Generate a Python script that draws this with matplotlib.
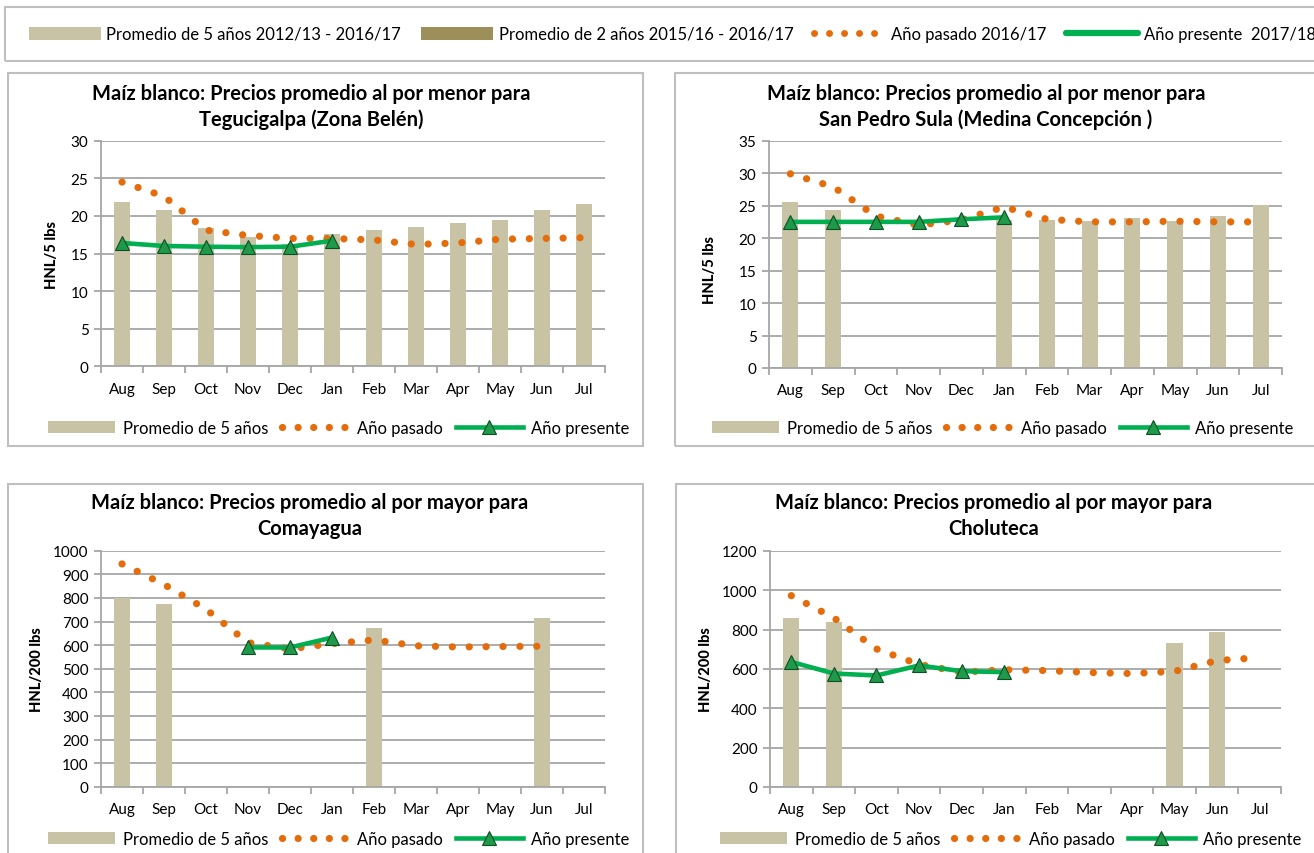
import numpy as np
import matplotlib
matplotlib.use('Agg')
import matplotlib.pyplot as plt
from matplotlib.patches import Rectangle, Patch
from matplotlib.lines import Line2D

nan = np.nan

# ---------------- data ----------------
months = ['Aug', 'Sep', 'Oct', 'Nov', 'Dec', 'Jan', 'Feb', 'Mar', 'Apr', 'May', 'Jun', 'Jul']

teg_prom5 = [21.8, 20.8, 18.4, 17.2, 16.2, 17.6, 18.1, 18.5, 19.0, 19.5, 20.8, 21.6]
teg_pasado = [24.5, 22.6, 18.1, 17.4, 17.0, 17.0, 16.8, 16.2, 16.4, 16.9, 17.0, 17.1]
teg_presente = [16.4, 16.0, 15.9, 15.85, 15.9, 16.7, nan, nan, nan, nan, nan, nan]

sps_prom5 = [25.5, 24.3, nan, nan, nan, 22.8, 22.8, 22.6, 23.1, 22.6, 23.4, 25.1]
sps_pasado = [29.9, 27.9, 23.4, 22.0, 22.8, 24.8, 22.9, 22.5, 22.5, 22.6, 22.5, 22.5]
sps_presente = [22.5, 22.5, 22.5, 22.5, 22.9, 23.2, nan, nan, nan, nan, nan, nan]

com_prom5 = [801, 773, nan, nan, nan, nan, 671, nan, nan, nan, 716, nan]
com_pasado = [944, 857, 752, 610, 584, 606, 622, 597, 592, 594, 595, nan]
com_presente = [nan, nan, nan, 590, 590, 632, nan, nan, nan, nan, nan, nan]

cho_prom5 = [858, 839, nan, nan, nan, nan, nan, nan, nan, 734, 789, nan]
cho_pasado = [973, 860, 702, 623, 584, 596, 592, 582, 577, 588, 643, 658]
cho_presente = [636, 577, 567, 618, 589, 584, nan, nan, nan, nan, nan, nan]

titles = [
    ('Maíz blanco: Precios promedio al por menor para', 'Tegucigalpa (Zona Belén)'),
    ('Maíz blanco: Precios promedio al por menor para', 'San Pedro Sula (Medina Concepción )'),
    ('Maíz blanco: Precios promedio al por mayor para', 'Comayagua'),
    ('Maíz blanco: Precios promedio al por mayor para', 'Choluteca'),
]
ylabels = ['HNL/5 lbs', 'HNL/5 lbs', 'HNL/200 lbs', 'HNL/200 lbs']
legend_labels = ['Promedio de 5 años', 'Año pasado', 'Año presente']
top_labels = ['Promedio de 5 años 2012/13 - 2016/17', 'Promedio de 2 años 2015/16 - 2016/17',
              'Año pasado 2016/17', 'Año presente  2017/18']

# ---------------- style ----------------
BAR = '#C9C3A6'
BAR2 = '#9C8F5A'
ORANGE = '#E46C0A'
GREEN = '#00B050'
TRI_FC = '#1F9A4A'
TRI_EC = '#0C4F24'
GRID = '#A6A6A6'
BOX = '#BFBFBF'
FONT = ['Lato', 'DejaVu Sans']

plt.rcParams['font.family'] = FONT

W, H = 1314, 854
fig = plt.figure(figsize=(W / 100, H / 100), dpi=100)


def fx(px):
    return px / W


def fy(py):
    return 1 - py / H


def box(x0, y0, x1, y1):
    fig.patches.append(Rectangle((fx(x0), fy(y1)), (x1 - x0) / W, (y1 - y0) / H,
                                 transform=fig.transFigure, fill=False,
                                 edgecolor=BOX, lw=1.5, zorder=0))


DOT = (0, (0.01, 2.33))
DOT_LEG = (0, (0.01, 2.15))

# top legend
box(5, 8, 1330, 62)
top_handles = [
    Patch(facecolor=BAR, edgecolor='none'),
    Patch(facecolor=BAR2, edgecolor='none'),
    Line2D([], [], color=ORANGE, lw=5, linestyle=DOT_LEG, dash_capstyle='round'),
    Line2D([], [], color=GREEN, lw=4.5, solid_capstyle='round'),
]
fig.legend(top_handles, top_labels, loc='center left', bbox_to_anchor=(fx(29), fy(35)),
           ncol=4, frameon=False, fontsize=12, handlelength=4.3, handleheight=0.8,
           handletextpad=0.35, columnspacing=1.2, borderpad=0, borderaxespad=0)

panels = [
    dict(prom=teg_prom5, pas=teg_pasado, pre=teg_presente, ax=(101, 605, 141.7, 367.3),
         ymax=30, step=5, tx=311, ty=(94, 120), yl=(52, 255), lg=(48, 429),
         box=(8, 74, 643, 447)),
    dict(prom=sps_prom5, pas=sps_pasado, pre=sps_presente, ax=(769, 1282, 141.7, 369),
         ymax=35, step=5, tx=986, ty=(94, 120), yl=(710, 270), lg=(712, 429),
         box=(675, 74, 1330, 447)),
    dict(prom=com_prom5, pas=com_pasado, pre=com_presente, ax=(101, 605, 551.7, 787.7),
         ymax=1000, step=100, tx=310, ty=(503, 529), yl=(37, 670), lg=(48, 840),
         box=(8, 485, 643, 870)),
    dict(prom=cho_prom5, pas=cho_pasado, pre=cho_presente, ax=(770, 1281, 552, 788),
         ymax=1200, step=200, tx=994, ty=(503, 529), yl=(706, 670), lg=(720, 840),
         box=(676, 485, 1330, 870)),
]

x = np.arange(len(months))

for i, p in enumerate(panels):
    box(*p['box'])
    l, r, t, b = p['ax']
    ax = fig.add_axes([fx(l), fy(b), (r - l) / W, (b - t) / H])
    bars = ax.bar(x, p['prom'], width=0.38, color=BAR, zorder=2, label=legend_labels[0])
    ax.plot(x, p['pas'], color=ORANGE, lw=5.2, linestyle=DOT, dash_capstyle='round',
            zorder=3, label=legend_labels[1])
    lc, = ax.plot(x, p['pre'], color=GREEN, lw=3.3, marker='^', ms=9.5, mfc=TRI_FC, mec=TRI_EC,
                  mew=0.8, zorder=4, label=legend_labels[2])
    lp_handle = Line2D([], [], color=ORANGE, lw=5.2, linestyle=DOT_LEG, dash_capstyle='round')

    ax.set_xlim(-0.5, len(months) - 0.5)
    ax.set_ylim(0, p['ymax'])
    ax.set_yticks(np.arange(0, p['ymax'] + p['step'] / 2, p['step']))
    ax.yaxis.grid(True, color=GRID, lw=1.3)
    ax.set_axisbelow(True)
    for s in ('top', 'right'):
        ax.spines[s].set_visible(False)
    for s in ('left', 'bottom'):
        ax.spines[s].set_color(GRID)
        ax.spines[s].set_linewidth(1.3)
    ax.set_xticks(np.arange(-0.5, len(months), 1.0))
    ax.set_xticklabels([])
    ax.set_xticks(x, minor=True)
    ax.set_xticklabels(months, minor=True)
    ax.tick_params(axis='x', which='major', direction='out', length=5, width=1.3, color=GRID)
    ax.tick_params(axis='x', which='minor', length=0, pad=11, labelsize=11)
    ax.tick_params(axis='y', direction='out', length=5, width=1.3, color=GRID,
                   labelsize=11, pad=4)

    fig.text(fx(p['tx']), fy(p['ty'][0]), titles[i][0], ha='center', va='center',
             fontsize=14.5, fontweight='bold')
    fig.text(fx(p['tx']), fy(p['ty'][1]), titles[i][1], ha='center', va='center',
             fontsize=14.5, fontweight='bold')
    fig.text(fx(p['yl'][0]), fy(p['yl'][1]), ylabels[i], rotation=90, ha='center',
             va='center', fontsize=10.5, fontweight='black')

    fig.legend([bars, lp_handle, lc], legend_labels, loc='center left',
               bbox_to_anchor=(fx(p['lg'][0]), fy(p['lg'][1])), ncol=3, frameon=False,
               fontsize=12, handlelength=4.0, handleheight=0.75, handletextpad=0.5,
               columnspacing=0.8, borderpad=0, borderaxespad=0)

fig.savefig('out.png', dpi=100)
